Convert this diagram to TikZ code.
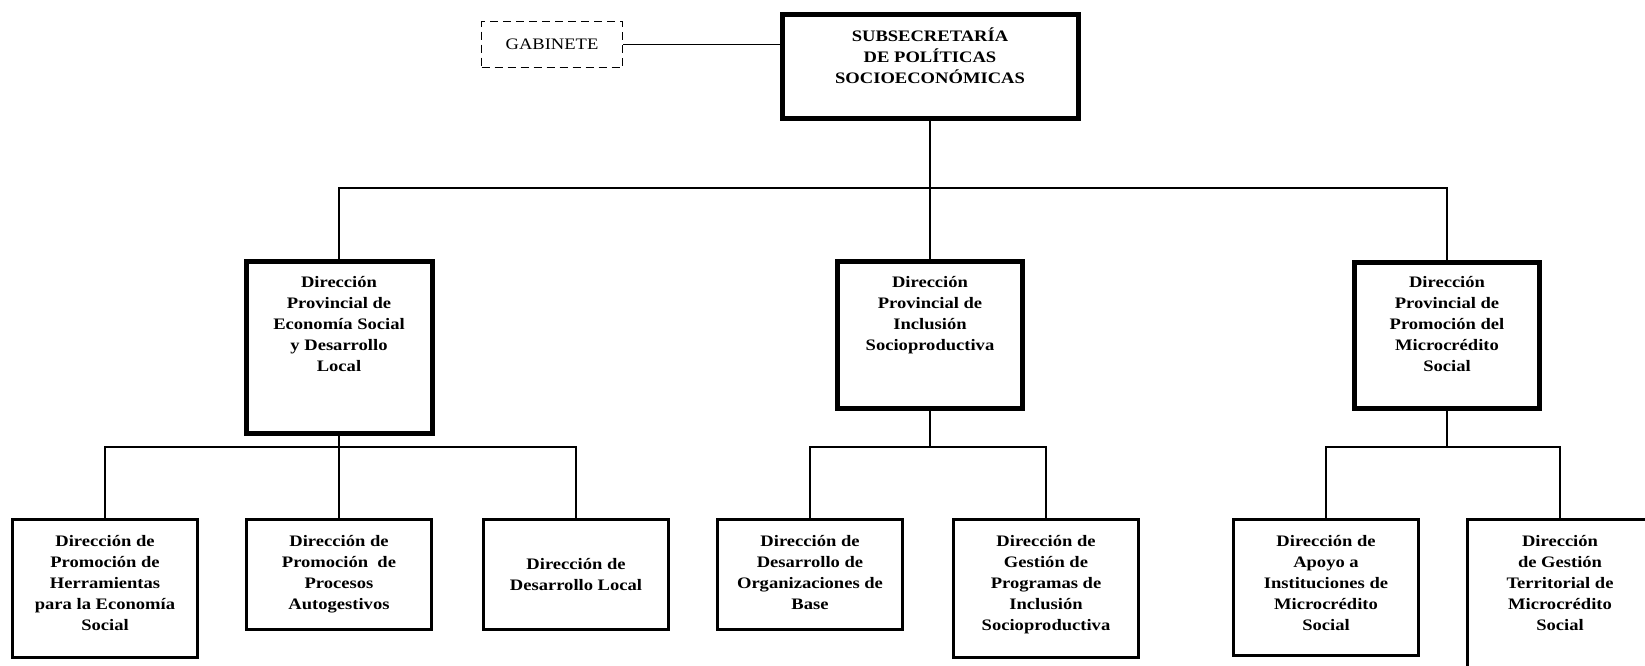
\documentclass[tikz,border=0pt]{standalone}
\usepackage{fontspec}
\setmainfont{Liberation Serif}[FakeStretch=1.16]
\usetikzlibrary{positioning}

\tikzset{
    unitbox/.style={draw, line width=2.5pt, anchor=north, inner sep=0pt, minimum width=185pt},
    provbox/.style={draw, line width=5pt, anchor=north, inner sep=0pt},
    boxtext/.style={align=center, inner sep=0pt, font=\bfseries\fontsize{16}{21}\selectfont},
    link/.style={line width=1.5pt},
}

\begin{document}
\begin{tikzpicture}[x=1pt, y=-1pt]
    \useasboundingbox (0,0) rectangle (1645,665);
    \clip (0,0) rectangle (1645,665);

    % top
    \node[draw, dash pattern=on 8pt off 5pt, line width=1.5pt, minimum width=141pt, minimum height=46pt,
        font=\fontsize{16}{21}\selectfont] (gab) at (552,44.5) {GABINETE};
    \node[provbox, minimum width=296pt, minimum height=104pt] (sub) at (930,11.5) {};
    \node[boxtext, below=16pt of sub.north] (subtxt) {SUBSECRETARÍA\\DE POLÍTICAS\\SOCIOECONÓMICAS};

    % direcciones provinciales
    \node[provbox, minimum width=186pt, minimum height=172pt] (dpes) at (339,258.5) {};
    \node[boxtext, below=18pt of dpes.north] (dpestxt) {Dirección\\Provincial de\\Economía Social\\y Desarrollo\\Local};
    \node[provbox, minimum width=185pt, minimum height=147pt] (dpis) at (930,258.5) {};
    \node[boxtext, below=18pt of dpis.north] (dpistxt) {Dirección\\Provincial de\\Inclusión\\Socioproductiva};
    \node[provbox, minimum width=185pt, minimum height=146pt] (dpms) at (1447,259.5) {};
    \node[boxtext, below=17pt of dpms.north] (dpmstxt) {Dirección\\Provincial de\\Promoción del\\Microcrédito\\Social};

    % direcciones
    \node[unitbox, minimum height=138pt] (dhe) at (105,518) {};
    \node[boxtext, below=17.5pt of dhe.north] (dhetxt) {Dirección de\\Promoción de\\Herramientas\\para la Economía\\Social};
    \node[unitbox, minimum height=110pt] (dpa) at (339,518) {};
    \node[boxtext, below=17.5pt of dpa.north] (dpatxt) {Dirección de\\Promoción \ de\\Procesos\\Autogestivos};
    \node[unitbox, minimum height=110pt] (ddl) at (576,518) {};
    \node[boxtext] (ddltxt) at (ddl.center) {Dirección de\\Desarrollo Local};
    \node[unitbox, minimum height=110pt] (dob) at (810,518) {};
    \node[boxtext, below=17.5pt of dob.north] (dobtxt) {Dirección de\\Desarrollo de\\Organizaciones de\\Base};
    \node[unitbox, minimum height=138pt] (dgp) at (1046,518) {};
    \node[boxtext, below=17.5pt of dgp.north] (dgptxt) {Dirección de\\Gestión de\\Programas de\\Inclusión\\Socioproductiva};
    \node[unitbox, minimum height=136pt] (dai) at (1326,518) {};
    \node[boxtext, below=17.5pt of dai.north] (daitxt) {Dirección de\\Apoyo a\\Instituciones de\\Microcrédito\\Social};
    \node[unitbox, minimum height=180pt] (dgt) at (1560,518) {};
    \node[boxtext, below=17.5pt of dgt.north] (dgttxt) {Dirección\\de Gestión\\Territorial de\\Microcrédito\\Social};

    \coordinate (bus) at (930,188);
    \coordinate (buses) at (339,447);
    \coordinate (busis) at (930,447);
    \coordinate (busms) at (1447,447);

    \draw[link] (gab.east) -- (gab.east -| sub.west);
    \draw[link] (sub.south) -- (dpis.north);
    \draw[link] (dpes.north) |- (bus) -| (dpms.north);

    \draw[link] (dpes.south) -- (dpa.north);
    \draw[link] (dhe.north) |- (buses) -| (ddl.north);
    \draw[link] (dpis.south) -- (busis);
    \draw[link] (dob.north) |- (busis) -| (dgp.north);
    \draw[link] (dpms.south) -- (busms);
    \draw[link] (dai.north) |- (busms) -| (dgt.north);
\end{tikzpicture}
\end{document}
